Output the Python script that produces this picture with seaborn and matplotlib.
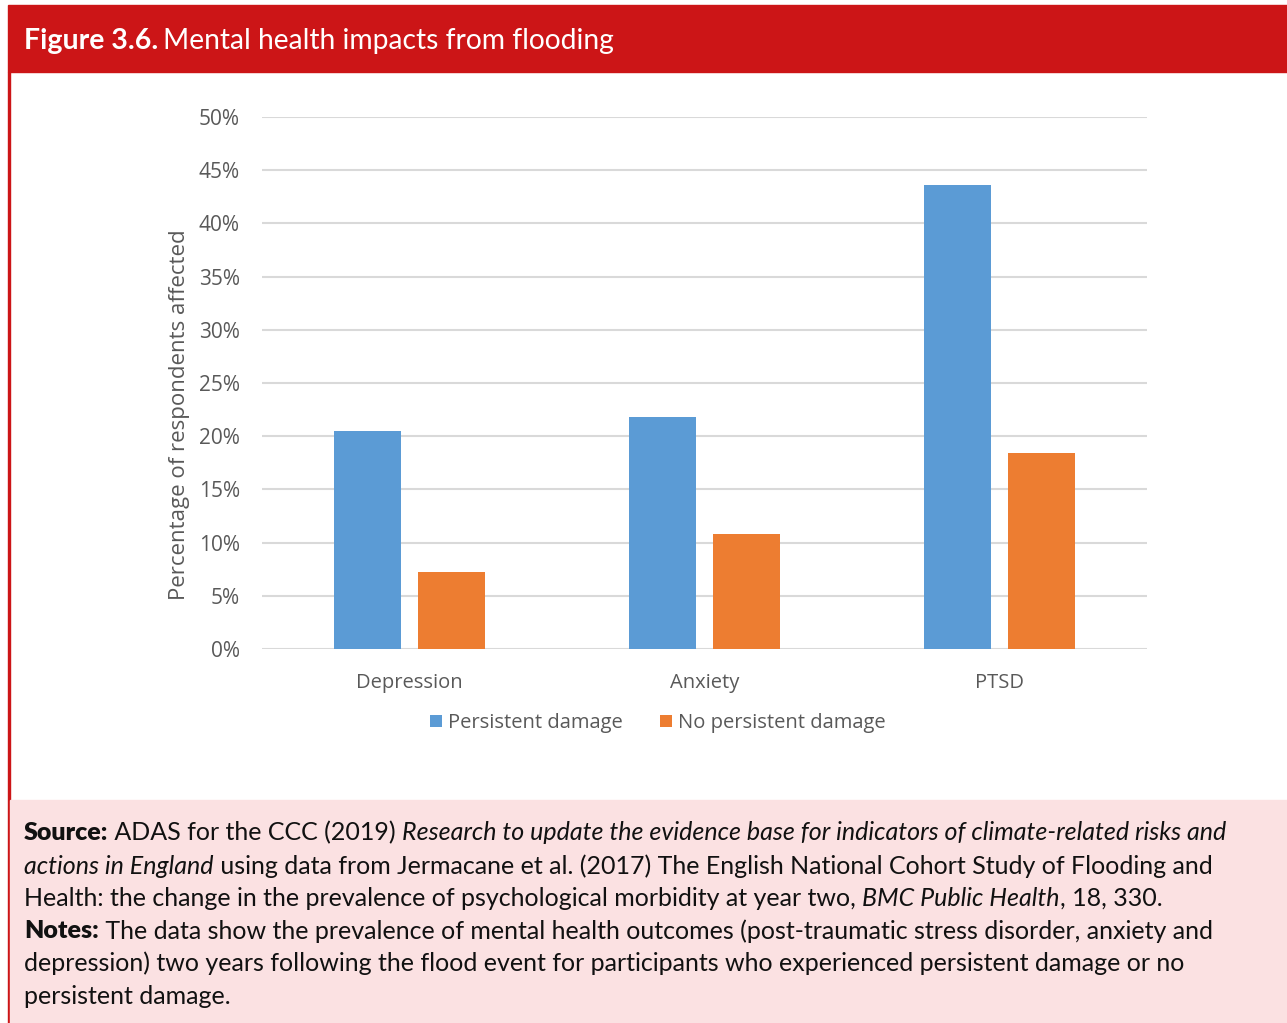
import matplotlib.pyplot as plt
import seaborn as sns
import pandas as pd
from matplotlib.patches import Rectangle
from matplotlib.ticker import PercentFormatter

sns.set_style("white")
plt.rcParams['font.family'] = ['Open Sans', 'DejaVu Sans']

# Data
conditions = ["Depression", "Anxiety", "PTSD"]
persistent = [20.5, 21.8, 43.6]
no_persistent = [7.2, 10.8, 18.4]
groups = ["Persistent damage", "No persistent damage"]
colors = ["#5B9BD5", "#ED7D31"]

df = pd.DataFrame({
    "condition": conditions * 2,
    "value": persistent + no_persistent,
    "group": [groups[0]] * 3 + [groups[1]] * 3,
})

W, H = 1287, 1023
fig = plt.figure(figsize=(W / 100, H / 100), dpi=100)

# frame: red header, red left rule, pink notes box
fig.patches.append(Rectangle((8 / W, 1 - 72 / H), 1, 67 / H, transform=fig.transFigure,
                             color="#CC1517", zorder=0))
fig.patches.append(Rectangle((8 / W, 0), 2 / W, 1 - 72 / H, transform=fig.transFigure,
                             color="#CC1517", zorder=0))
fig.patches.append(Rectangle((10 / W, 0), 1, 1 - 800 / H, transform=fig.transFigure,
                             color="#FBE1E2", zorder=0))

ax = fig.add_axes([262 / W, 1 - 649 / H, (1147 - 262) / W, (649 - 117) / H])
sns.barplot(data=df, x="condition", y="value", hue="group", palette=colors,
            width=0.57, gap=0.21, ax=ax, saturation=1, edgecolor="none", zorder=3)

ax.set_ylim(0, 50)
ax.set_yticks(range(0, 51, 5))
ax.yaxis.set_major_formatter(PercentFormatter(decimals=0))
ax.grid(axis="y", color="#D9D9D9", linewidth=1.5, zorder=0)
ax.set_axisbelow(True)
sns.despine(ax=ax, left=True, bottom=True)
ax.tick_params(axis="y", length=0, labelsize=15, colors="#595959", pad=16)
ax.tick_params(axis="x", length=0, labelsize=14.5, colors="#595959", pad=17)
ax.set_xlabel("")
ax.set_ylabel("Percentage of respondents affected", fontsize=16, color="#595959")
ax.yaxis.set_label_coords((190 - 262) / (1147 - 262), (649 - 415) / (649 - 117))

leg = ax.legend(loc="center", bbox_to_anchor=(658 / W, 1 - 723 / H),
                bbox_transform=fig.transFigure, ncol=2, frameon=False,
                fontsize=14.5, handlelength=0.6, handleheight=0.6, handletextpad=0.3,
                columnspacing=1.85)
for t in leg.get_texts():
    t.set_color("#595959")

# header title
fig.text(24 / W, 1 - 41 / H, "Figure 3.6.", color="white", fontsize=20.5,
         fontweight="bold", va="center", family=["Lato", "DejaVu Sans"])
renderer = fig.canvas.get_renderer()


def draw_runs(runs, x0, y, size=18):
    x = x0
    for txt, style in runs:
        kw = {}
        if style == "b":
            kw["fontweight"] = "heavy"
        elif style == "i":
            kw["fontstyle"] = "italic"
        t = fig.text(x, y, txt, fontsize=size, va="center", color="#111111",
                     family=["Lato", "DejaVu Sans"], **kw)
        bb = t.get_window_extent(renderer)
        x = x + bb.width / W


title_bb = fig.texts[0].get_window_extent(renderer)
fig.text(24 / W + title_bb.width / W + 5 / W, 1 - 41 / H, "Mental health impacts from flooding",
         color="white", fontsize=20.3, va="center", family=["Lato", "DejaVu Sans"])

lines = [
    [("Source:", "b"), (" ADAS for the CCC (2019) ", ""),
     ("Research to update the evidence base for indicators of climate-related risks and", "i")],
    [("actions in England", "i"),
     (" using data from Jermacane et al. (2017) The English National Cohort Study of Flooding and", "")],
    [("Health: the change in the prevalence of psychological morbidity at year two, ", ""),
     ("BMC Public Health", "i"), (", 18, 330.", "")],
    [("Notes:", "b"),
     (" The data show the prevalence of mental health outcomes (post-traumatic stress disorder, anxiety and", "")],
    [("depression) two years following the flood event for participants who experienced persistent damage or no", "")],
    [("persistent damage.", "")],
]
ys = [833, 866, 898, 931, 963, 996]
for runs, yy in zip(lines, ys):
    draw_runs(runs, 24 / W, 1 - yy / H)

fig.savefig("out.png", dpi=100)
